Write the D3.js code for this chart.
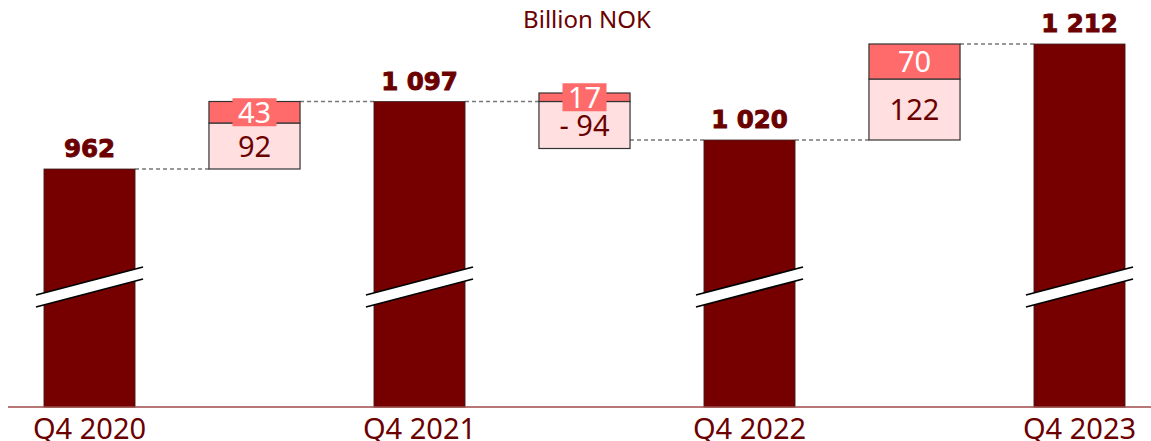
<!DOCTYPE html>
<html lang="en">
  <head>
    <meta charset="UTF-8" />
    <title>Billion NOK</title>
    <script src="https://d3js.org/d3.v7.min.js"></script>
    <style>
      body { margin: 0; background: #fff; }
      text { font-family: 'Noto Sans', sans-serif; fill: #6b0000; }
    </style>
  </head>
  <body></body>
  <script type="text/javascript">
    var width = 1151,
      height = 441;

    // quarter labels of the totals
    var quarters = ['Q4 2020', 'Q4 2021', 'Q4 2022', 'Q4 2023'];
    var totals = [962, 1097, 1020, 1212];
    // changes between quarters: light part and salmon part
    var lightParts = [92, -94, 122];
    var salmonParts = [43, 17, 70];
    var yBottom = 486; // value at the broken baseline

    var fmt = v => d3.format(',')(v).replace(/,/g, ' ');
    var lbl = v => (v < 0 ? '- ' + Math.abs(v) : '' + v);

    var x = d3.scaleBand()
      .domain(d3.range(7))
      .range([7, 1162])
      .paddingInner(0.448)
      .paddingOuter(0.224);

    var y = d3.scaleLinear()
      .domain([yBottom, 1212])
      .range([407, 44]);

    var svg = d3.select('body').append('svg')
      .attr('width', width)
      .attr('height', height);

    // title
    svg.append('text')
      .attr('x', 587).attr('y', 28)
      .attr('text-anchor', 'middle')
      .style('font-size', '24px')
      .text('Billion NOK');

    // dashed connectors
    var conns = [];
    totals.forEach((t, i) => {
      if (i < lightParts.length) {
        conns.push({ x1: x(i * 2) + x.bandwidth(), x2: x(i * 2 + 1), v: t });
        conns.push({ x1: x(i * 2 + 1) + x.bandwidth(), x2: x(i * 2 + 2), v: totals[i + 1] });
      }
    });
    svg.selectAll('line.conn').data(conns).enter().append('line')
      .attr('class', 'conn')
      .attr('x1', d => d.x1).attr('x2', d => d.x2)
      .attr('y1', d => y(d.v)).attr('y2', d => y(d.v))
      .attr('stroke', '#777')
      .attr('stroke-width', 1.3)
      .attr('stroke-dasharray', '4 3');

    // total bars
    var bars = svg.selectAll('g.total').data(totals).enter().append('g')
      .attr('class', 'total');
    bars.append('rect')
      .attr('x', (d, i) => x(i * 2))
      .attr('y', d => y(d))
      .attr('width', x.bandwidth())
      .attr('height', d => y(yBottom) - y(d))
      .attr('fill', '#760000')
      .attr('stroke', '#3a2020')
      .attr('stroke-width', 0.8);
    bars.append('text')
      .attr('x', (d, i) => x(i * 2) + x.bandwidth() / 2)
      .attr('y', d => y(d) - 12)
      .attr('text-anchor', 'middle')
      .style('font-family', "'DejaVu Sans', sans-serif")
      .style('font-weight', 'bold')
      .style('font-size', '24.5px')
      .style('stroke', '#6b0000')
      .style('stroke-width', 0.9)
      .text(fmt);

    // axis break marks
    bars.each(function (d, i) {
      var g = d3.select(this);
      var x0 = x(i * 2) - 8, x1 = x(i * 2) + x.bandwidth() + 8;
      var yl = 301, yr = 273;
      g.append('path')
        .attr('d', `M${x0},${yl - 6}L${x1},${yr - 6}L${x1},${yr + 6}L${x0},${yl + 6}Z`)
        .attr('fill', '#fff');
      [-6, 6].forEach(o => {
        g.append('line')
          .attr('x1', x0).attr('y1', yl + o)
          .attr('x2', x1).attr('y2', yr + o)
          .attr('stroke', '#000').attr('stroke-width', 1.8);
      });
    });

    // change boxes
    lightParts.forEach((lp, i) => {
      var sp = salmonParts[i];
      var start = totals[i];
      var bx = x(i * 2 + 1), bw = x.bandwidth();
      var lo = Math.min(start, start + lp), hi = Math.max(start, start + lp);
      var sLo = lp >= 0 ? start + lp : start, sHi = sLo + sp;
      var g = svg.append('g');
      g.append('rect')
        .attr('x', bx).attr('y', y(hi))
        .attr('width', bw).attr('height', y(lo) - y(hi))
        .attr('fill', '#ffdfdf').attr('stroke', '#333').attr('stroke-width', 1.2);
      g.append('rect')
        .attr('x', bx).attr('y', y(sHi))
        .attr('width', bw).attr('height', y(sLo) - y(sHi))
        .attr('fill', '#ff6b6b').attr('stroke', '#333').attr('stroke-width', 1.2);
      g.append('text')
        .attr('x', bx + bw / 2).attr('y', (y(lo) + y(hi)) / 2 + 10.5)
        .attr('text-anchor', 'middle')
        .style('font-size', '29px')
        .text(lbl(lp));
      var sy = (y(sLo) + y(sHi)) / 2;
      g.append('rect')
        .attr('x', bx + bw / 2 - 22).attr('y', sy - 14)
        .attr('width', 44).attr('height', 28)
        .attr('fill', '#ff6b6b');
      g.append('text')
        .attr('x', bx + bw / 2).attr('y', sy + 10.5)
        .attr('text-anchor', 'middle')
        .style('font-size', '29px')
        .style('fill', '#fff')
        .text(lbl(sp));
    });

    // baseline and quarter labels
    svg.append('line')
      .attr('x1', 8).attr('x2', width)
      .attr('y1', y(yBottom)).attr('y2', y(yBottom))
      .attr('stroke', '#a04848').attr('stroke-width', 1.3);
    svg.selectAll('text.q').data(quarters).enter().append('text')
      .attr('class', 'q')
      .attr('x', (d, i) => x(i * 2) + x.bandwidth() / 2)
      .attr('y', 439)
      .attr('text-anchor', 'middle')
      .style('font-size', '29px')
      .text(d => d);
  </script>
</html>
